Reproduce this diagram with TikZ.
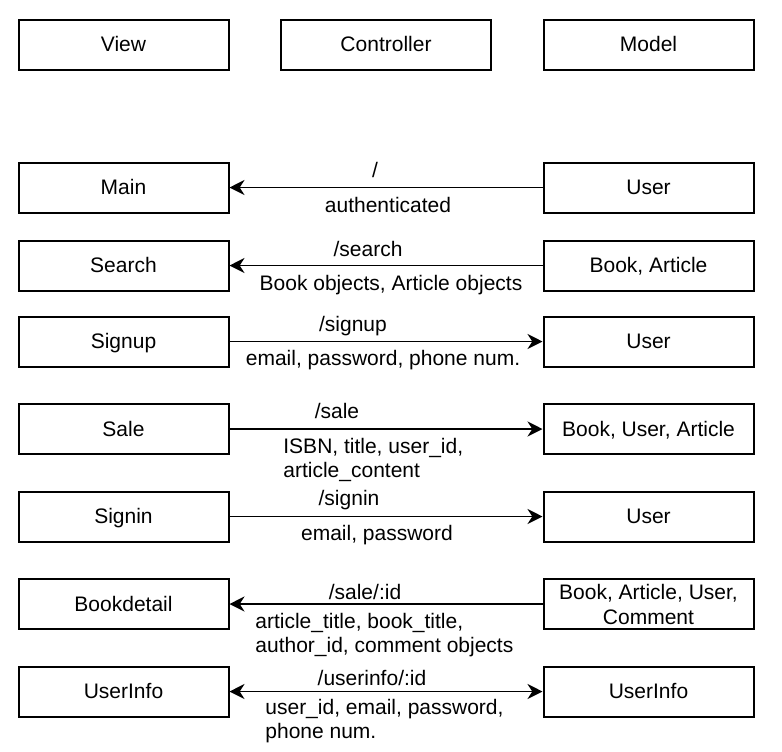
\documentclass[tikz,border=0pt]{standalone}
\usepackage{fontspec}
\setmainfont{Liberation Sans}
\usetikzlibrary{arrows.meta}
\begin{document}
\begin{tikzpicture}[x=0.5pt,y=-0.5pt,
  box/.style={draw=black,line width=1pt,minimum width=105pt,minimum height=25pt,inner sep=0pt,align=center,font=\fontsize{10.5}{12.5}\selectfont},
  sbox/.style={box,text height=7.6pt,text depth=0.2pt},
  lbl/.style={inner sep=0pt,font=\fontsize{10.5}{12}\selectfont,text height=7.6pt,text depth=0.2pt},
  lblblock/.style={inner sep=0pt,font=\fontsize{10.5}{12}\selectfont,align=left,anchor=west},
  conn/.style={line width=0.9pt,-{Stealth[length=7.5pt,width=7.5pt,inset=2.4pt]}},
  bconn/.style={line width=0.9pt,{Stealth[length=7.5pt,width=7.5pt,inset=2.4pt]}-{Stealth[length=7.5pt,width=7.5pt,inset=2.4pt]}}]
\useasboundingbox[fill=white] (0,0) rectangle (782,751);
% headers
\node[sbox] (view) at (123.5,44.5) {View};
\node[sbox] (ctrl) at (386,44.5) {Controller};
\node[sbox] (model) at (648.5,44.5) {Model};
% rows
\node[sbox] (main) at (123.5,187.5) {Main};
\node[sbox] (user1) at (648.5,187.5) {User};
\node[sbox] (search) at (123.5,265.5) {Search};
\node[sbox] (bookart) at (648.5,265.5) {Book, Article};
\node[sbox] (signup) at (123.5,341.5) {Signup};
\node[sbox] (user2) at (648.5,341.5) {User};
\node[sbox] (sale) at (123.5,429) {Sale};
\node[sbox] (bua) at (648.5,429) {Book, User, Article};
\node[sbox] (signin) at (123.5,516.5) {Signin};
\node[sbox] (user3) at (648.5,516.5) {User};
\node[sbox] (bookdetail) at (123.5,604) {Bookdetail};
\node[box] (bauc) at (648.5,604) {Book, Article, User,\\Comment};
\node[sbox] (userinfoV) at (123.5,691.5) {UserInfo};
\node[sbox] (userinfoM) at (648.5,691.5) {UserInfo};
% connectors
\draw[conn] (user1) -- (main);
\draw[conn] (bookart) -- (search);
\draw[conn] (signup) -- (user2);
\draw[conn] (sale) -- (bua);
\draw[conn] (signin) -- (user3);
\draw[conn] (bauc) -- (bookdetail);
\draw[bconn] (userinfoV) -- (userinfoM);
% labels
\node[lbl] (l1a) at (375,170) {/};
\node[lbl] (l1b) at (388,205) {authenticated};
\node[lbl] (l2a) at (368,249) {/search};
\node[lbl] (l2b) at (391,283) {Book objects, Article objects};
\node[lbl] (l3a) at (353,324) {/signup};
\node[lbl] (l3b) at (383,358) {email, password, phone num.};
\node[lbl] (l4a) at (337,411) {/sale};
\node[lblblock] (l4b) at (283,460) {ISBN, title, user\_id,\\article\_content};
\node[lbl] (l5a) at (349,498) {/signin};
\node[lbl] (l5b) at (377,533) {email, password};
\node[lbl] (l6a) at (365,592) {/sale/:id};
\node[lblblock] (l6b) at (255,635) {article\_title, book\_title,\\author\_id, comment objects};
\node[lbl] (l7a) at (372,678) {/userinfo/:id};
\node[lblblock] (l7b) at (265,721) {user\_id, email, password,\\phone num.};
\end{tikzpicture}
\end{document}
